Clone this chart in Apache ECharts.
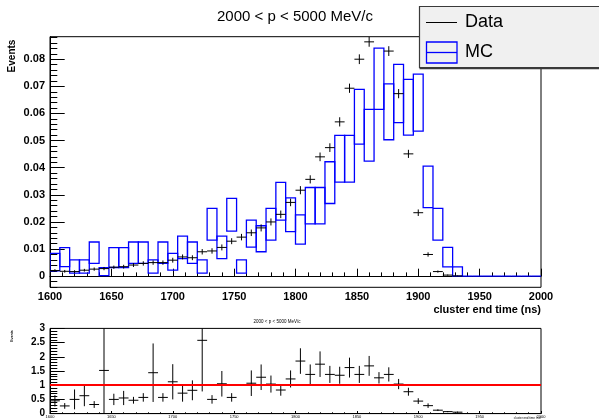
<!DOCTYPE html>
<html><head><meta charset="utf-8">
<script src="https://cdn.jsdelivr.net/npm/echarts@6/dist/echarts.min.js"></script>
<style>html,body{margin:0;padding:0;background:#fff}#c{width:599px;height:419px}</style>
</head><body><div id="c"></div>
<script>
// ---- data ----
const binLow = [1600,1608,1616,1624,1632,1640,1648,1656,1664,1672,
                1680,1688,1696,1704,1712,1720,1728,1736,1744,1752,
                1760,1768,1776,1784,1792,1800,1808,1816,1824,1832,
                1840,1848,1856,1864,1872,1880,1888,1896,1904,1912,
                1920,1928,1936,1944,1952,1960,1968,1976,1984,1992];
const binWidth = 8;
const dataValues = [0.0021,0.0018,0.0017,0.0022,0.0026,0.0028,0.0033,0.0035,0.0041,0.0047,
                    0.0050,0.0050,0.0059,0.0071,0.0068,0.0090,0.0093,0.0106,0.0129,0.0144,
                    0.0160,0.0178,0.0200,0.0228,0.0272,0.0317,0.0357,0.0440,0.0474,0.0569,
                    0.0693,0.0800,0.0864,0.0918,0.0830,0.0673,0.0451,0.0234,0.0080,0.0017,
                    0.0004,0.0001,null,null,null,null,null,null,null,null];
const dataErrors = [0.0005,0.0005,0.0005,0.0005,0.0006,0.0006,0.0006,0.0007,0.0007,0.0008,
                    0.0008,0.0008,0.0009,0.0009,0.0009,0.0010,0.0010,0.0011,0.0011,0.0012,
                    0.0012,0.0013,0.0013,0.0014,0.0014,0.0015,0.0015,0.0016,0.0016,0.0017,
                    0.0017,0.0018,0.0018,0.0018,0.0018,0.0017,0.0015,0.0012,0.0008,0.0004,
                    0.0002,0.0001,0,0,0,0,0,0,0,0];
const mcHigh = [0.0084,0.0105,0.0060,0.0060,0.0126,0.0031,0.0105,0.0105,0.0126,0.0126,
                0.0060,0.0126,0.0084,0.0148,0.0126,0.0060,0.0250,0.0148,0.0287,0.0060,
                0.0207,0.0186,0.0250,0.0346,0.0289,0.0226,0.0327,0.0327,0.0422,0.0519,
                0.0519,0.0689,0.0615,0.0841,0.0709,0.0781,0.0726,0.0745,0.0406,0.0250,
                0.0106,0.0034,0,0,0,0,0,0,0,0];
const mcLow  = [0.0020,0.0035,0.0011,0.0011,0.0047,0.0002,0.0032,0.0032,0.0047,0.0047,
                0.0011,0.0047,0.0022,0.0065,0.0047,0.0011,0.0133,0.0065,0.0166,0.0011,
                0.0107,0.0090,0.0133,0.0207,0.0164,0.0118,0.0193,0.0193,0.0268,0.0347,
                0.0347,0.0487,0.0424,0.0615,0.0503,0.0566,0.0520,0.0535,0.0253,0.0133,
                0.0034,0.0000,0,0,0,0,0,0,0,0];
const ratioValues = [0.45,0.27,0.50,0.63,0.32,1.52,0.50,0.55,0.47,0.57,
                     1.44,0.57,1.12,0.72,0.82,2.58,0.50,1.05,0.57,null,
                     1.07,1.28,1.04,0.83,1.22,1.85,1.38,1.74,1.38,1.35,
                     1.62,1.38,1.68,1.26,1.38,1.04,0.77,0.44,0.28,0.12,
                     0.07,0.05,null,null,null,null,null,null,null,null];
const ratioErrors = [0.20,0.10,0.35,0.37,0.12,1.60,0.20,0.25,0.12,0.15,
                     1.03,0.15,0.62,0.30,0.35,1.80,0.15,0.45,0.15,null,
                     0.45,0.45,0.30,0.20,0.30,0.45,0.35,0.45,0.30,0.30,
                     0.35,0.30,0.35,0.20,0.25,0.18,0.14,0.10,0.08,0.03,
                     0.02,0.02,null,null,null,null,null,null,null,null];
const yMajorTicks = [0,0.01,0.02,0.03,0.04,0.05,0.06,0.07,0.08];
const titleText = '2000 < p < 5000 MeV/c';
const xTitle = 'cluster end time (ns)';
const yTitle = 'Events';

// minor tick positions (every 0.002) - layout only
const yMinorTicks = [];
for (let i = -2; i <= 44; i++) { if (i % 5 !== 0) yMinorTicks.push(+(i * 0.002).toFixed(4)); }

const FONT = 'Liberation Sans, Arial, Helvetica, sans-serif';
const plain = v => String(v);

const mcData = binLow.map((lo, i) => [lo, lo + binWidth, mcLow[i], mcHigh[i]]);
const ptsData = [];
binLow.forEach((lo, i) => { if (dataValues[i] !== null) ptsData.push([lo, lo + binWidth, dataValues[i], dataErrors[i]]); });
const ratioData = [];
binLow.forEach((lo, i) => { if (ratioValues[i] !== null) ratioData.push([lo, lo + binWidth, ratioValues[i], ratioErrors[i]]); });

function renderBox(params, api) {
  const p0 = api.coord([api.value(0), api.value(3)]);
  const p1 = api.coord([api.value(1), api.value(2)]);
  return { type: 'rect',
    shape: { x: p0[0], y: p0[1], width: p1[0] - p0[0], height: p1[1] - p0[1] },
    style: { fill: 'none', stroke: '#0000ff', lineWidth: 1.3 } };
}
function renderCross(params, api) {
  const lo = api.value(0), hi = api.value(1), v = api.value(2), e = api.value(3);
  const a = api.coord([lo, v]), b = api.coord([hi, v]);
  const xc = (a[0] + b[0]) / 2;
  const t = api.coord([lo, v + e]), bt = api.coord([lo, v - e]);
  const ch = [{ type: 'line', shape: { x1: a[0], y1: a[1], x2: b[0], y2: b[1] }, style: { stroke: '#000', lineWidth: 1 } }];
  if (e > 0) ch.push({ type: 'line', shape: { x1: xc, y1: t[1], x2: xc, y2: bt[1] }, style: { stroke: '#000', lineWidth: 1 } });
  return { type: 'group', children: ch };
}

const blk = { color: '#000' };
const chart = echarts.init(document.getElementById('c'), null, { renderer: 'canvas', width: 599, height: 419 });
chart.setOption({
  backgroundColor: '#fff',
  animation: false,
  grid: [
    { left: 50, top: 36.7, width: 491, height: 250.6, show: true, borderColor: '#000', borderWidth: 1, containLabel: false },
    { left: 50, top: 328.4, width: 491, height: 85.2, show: true, borderColor: '#000', borderWidth: 1, containLabel: false }
  ],
  xAxis: [
    { gridIndex: 0, type: 'value', min: 1600, max: 2000, interval: 50,
      axisLine: { lineStyle: blk }, splitLine: { show: false },
      axisTick: { inside: true, length: 7.5, lineStyle: blk },
      minorTick: { show: true, splitNumber: 5, length: 3.8, lineStyle: blk },
      axisLabel: { color: '#000', fontSize: 11, fontWeight: 'bold', fontFamily: FONT, margin: 4, formatter: plain } },
    { gridIndex: 1, type: 'value', min: 1600, max: 2000, interval: 50,
      axisLine: { lineStyle: blk }, splitLine: { show: false },
      axisTick: { inside: true, length: 2.6, lineStyle: blk },
      minorTick: { show: true, splitNumber: 5, length: 1.3, lineStyle: blk },
      axisLabel: { color: '#000', fontSize: 4, fontFamily: FONT, margin: 1, formatter: plain } }
  ],
  yAxis: [
    { gridIndex: 0, type: 'value', min: -0.0041, max: 0.0883, position: 'left',
      axisLine: { show: true, lineStyle: blk }, splitLine: { show: false },
      axisTick: { show: true, inside: true, length: 14.7, lineStyle: blk, customValues: yMajorTicks },
      axisLabel: { color: '#000', fontSize: 11, fontWeight: 'bold', fontFamily: FONT, margin: 5, customValues: yMajorTicks, formatter: plain } },
    { gridIndex: 0, type: 'value', min: -0.0041, max: 0.0883, position: 'left', offset: 0,
      axisLine: { show: false }, splitLine: { show: false },
      axisTick: { show: true, inside: true, length: 7.3, lineStyle: blk, customValues: yMinorTicks },
      axisLabel: { show: false } },
    { gridIndex: 1, type: 'value', min: 0, max: 3, interval: 0.5, position: 'left',
      axisLine: { show: true, lineStyle: blk }, splitLine: { show: false },
      axisTick: { inside: true, length: 14.7, lineStyle: blk },
      minorTick: { show: true, splitNumber: 5, length: 7.3, lineStyle: blk },
      axisLabel: { color: '#000', fontSize: 10, fontWeight: 'bold', fontFamily: FONT, margin: 5, formatter: plain } }
  ],
  series: [
    { name: 'MC', type: 'custom', xAxisIndex: 0, yAxisIndex: 0, clip: true,
      renderItem: renderBox, data: mcData, encode: { x: [0, 1], y: [2, 3] }, z: 2 },
    { name: 'Data', type: 'custom', xAxisIndex: 0, yAxisIndex: 0, clip: true,
      renderItem: renderCross, data: ptsData, encode: { x: [0, 1], y: 2 }, z: 3 },
    { name: 'Ratio', type: 'custom', xAxisIndex: 1, yAxisIndex: 2, clip: true,
      renderItem: renderCross, data: ratioData, encode: { x: [0, 1], y: 2 }, z: 3,
      markLine: { silent: true, symbol: ['none', 'none'], label: { show: false },
        lineStyle: { color: '#ff0000', width: 2, type: 'solid' }, data: [{ yAxis: 1 }] } }
  ],
  graphic: { elements: [
    { type: 'text', x: 295, y: 17, style: { text: titleText, font: '15px ' + FONT, fill: '#000', align: 'center', verticalAlign: 'middle' } },
    { type: 'text', x: 541, y: 310, style: { text: xTitle, font: 'bold 11px ' + FONT, fill: '#000', align: 'right', verticalAlign: 'middle' } },
    { type: 'text', x: 12, y: 56, rotation: Math.PI / 2, style: { text: yTitle, font: 'bold 10px ' + FONT, fill: '#000', align: 'center', verticalAlign: 'middle' } },
    // small ratio-pad texts
    { type: 'text', x: 277, y: 321.5, style: { text: titleText, font: '4.5px ' + FONT, fill: '#000', align: 'center', verticalAlign: 'middle' } },
    { type: 'text', x: 541, y: 418, style: { text: xTitle, font: '3px ' + FONT, fill: '#000', align: 'right', verticalAlign: 'middle' } },
    { type: 'text', x: 12, y: 336, rotation: Math.PI / 2, style: { text: yTitle, font: 'bold 3.5px ' + FONT, fill: '#000', align: 'center', verticalAlign: 'middle' } },
    // legend
    { type: 'rect', z: 100, shape: { x: 419.5, y: 6.5, width: 200, height: 61 }, style: { fill: '#f0f0f0', stroke: '#3a3a3a', lineWidth: 1.2 } },
    { type: 'line', z: 101, shape: { x1: 419.5, y1: 68.2, x2: 600, y2: 68.2 }, style: { stroke: '#3a3a3a', lineWidth: 2 } },
    { type: 'line', z: 101, shape: { x1: 426, y1: 22.5, x2: 457, y2: 22.5 }, style: { stroke: '#000', lineWidth: 1 } },
    { type: 'rect', z: 101, shape: { x: 426.5, y: 42, width: 30.5, height: 21 }, style: { fill: 'none', stroke: '#0000ff', lineWidth: 1.3 } },
    { type: 'line', z: 101, shape: { x1: 426.5, y1: 52.5, x2: 457, y2: 52.5 }, style: { stroke: '#0000ff', lineWidth: 1.3 } },
    { type: 'text', z: 101, x: 465, y: 22.5, style: { text: 'Data', font: '18px ' + FONT, fill: '#000', align: 'left', verticalAlign: 'middle' } },
    { type: 'text', z: 101, x: 465, y: 52.5, style: { text: 'MC', font: '18px ' + FONT, fill: '#000', align: 'left', verticalAlign: 'middle' } }
  ] }
});
</script></body></html>
